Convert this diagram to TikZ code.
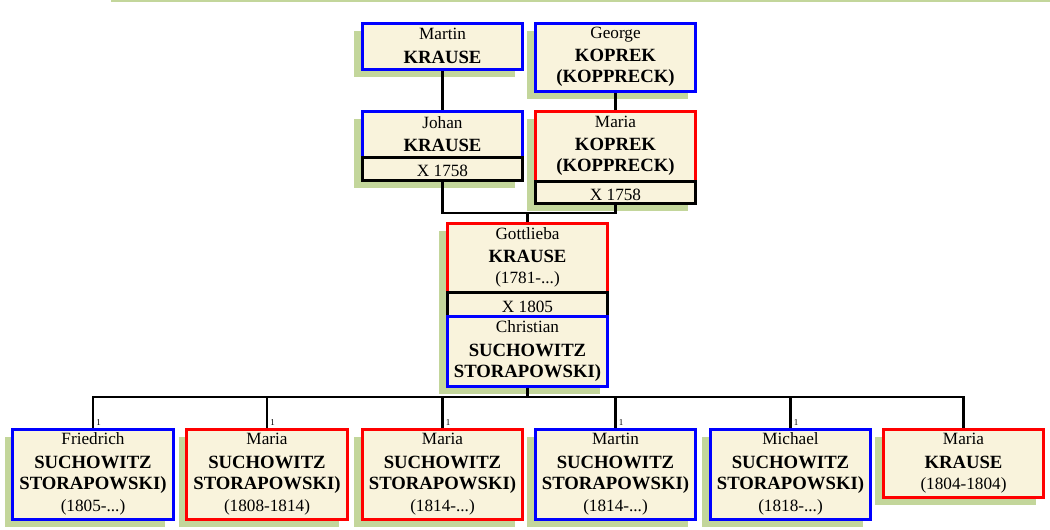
\documentclass[tikz,border=0pt]{standalone}
\usepackage{fontspec}
\setmainfont{Liberation Serif}
\usepackage{xcolor}
\usetikzlibrary{shadows}
\definecolor{cream}{HTML}{F9F3DC}
\definecolor{leaf}{HTML}{C3D69B}
\newcommand{\famname}[1]{{\fontsize{18.7}{21}\selectfont\bfseries #1}}

\begin{document}
\begin{tikzpicture}[x=1pt, y=-1pt,
  person/.style={draw, line width=3pt, fill=cream, minimum width=160.5pt, align=center, inner sep=2pt,
    font=\fontsize{17.2}{21}\selectfont, execute at begin node={\rule{0pt}{17pt}},
    drop shadow={shadow xshift=-8pt, shadow yshift=-8pt, fill=leaf, opacity=1}},
  man/.style={person, draw=blue},
  woman/.style={person, draw=red},
  wed/.style={person, draw=black},
  link/.style={line width=2.5pt},
  num/.style={anchor=south west, inner sep=0.5pt, xshift=1.5pt, font=\fontsize{9}{9}\selectfont}
]
\useasboundingbox (0,0) rectangle (1050,530);
\draw[leaf, line width=2pt] (111,1) -- (1050,1);

% grandparents
\node[man, minimum height=46pt] (martin) at (442.5,46) {Martin\\[2.5pt]\famname{KRAUSE}};
\node[man, minimum height=68pt] (george) at (615.5,57) {George\\[2.5pt]\famname{KOPREK}\\\famname{(KOPPRECK)}};

% parents
\node[man, minimum height=46pt] (johan) at (442.5,134) {Johan\\[2.5pt]\famname{KRAUSE}};
\node[wed, minimum height=23pt] (johanx) at (442.5,168.5) {X 1758};
\node[woman, minimum height=70pt] (mariak) at (615.5,146) {Maria\\[2.5pt]\famname{KOPREK}\\\famname{(KOPPRECK)}};
\node[wed, minimum height=22pt] (mariakx) at (615.5,192) {X 1758};

% couple
\node[woman, minimum height=69pt] (gottlieba) at (527.5,257.5) {Gottlieba\\[2.5pt]\famname{KRAUSE}\\(1781-...)};
\node[wed, minimum height=24pt] (gx) at (527.5,304) {X 1805};
\node[man, minimum height=70pt] (christian) at (527.5,351) {Christian\\[2.5pt]\famname{SUCHOWITZ}\\\famname{STORAPOWSKI)}};

% children
\node[man, minimum height=90pt] (fried) at (93,474) {Friedrich\\[2.5pt]\famname{SUCHOWITZ}\\\famname{STORAPOWSKI)}\\[1pt](1805-...)};
\node[woman, minimum height=90pt] (maria1) at (267,474) {Maria\\[2.5pt]\famname{SUCHOWITZ}\\\famname{STORAPOWSKI)}\\[1pt](1808-1814)};
\node[woman, minimum height=90pt] (maria2) at (442.5,474) {Maria\\[2.5pt]\famname{SUCHOWITZ}\\\famname{STORAPOWSKI)}\\[1pt](1814-...)};
\node[man, minimum height=90pt] (martin2) at (615.5,474) {Martin\\[2.5pt]\famname{SUCHOWITZ}\\\famname{STORAPOWSKI)}\\[1pt](1814-...)};
\node[man, minimum height=90pt] (michael) at (790.5,474) {Michael\\[2.5pt]\famname{SUCHOWITZ}\\\famname{STORAPOWSKI)}\\[1pt](1818-...)};
\node[woman, minimum height=68pt] (mkrause) at (963.5,463) {Maria\\[2.5pt]\famname{KRAUSE}\\(1804-1804)};

% links
\coordinate (jk) at (527.5,213);
\coordinate (bus) at (527.5,397);
\draw[link] (martin) -- (johan);
\draw[link] (george) -- (mariak);
\draw[link] (johanx.south) |- (jk) -| (mariakx.south);
\draw[link] (jk) -- (gottlieba.north);
\draw[link] (christian.south) -- (bus);
\foreach \kid in {fried,maria1,maria2,martin2,michael}
  \draw[link] (bus) -| (\kid.north) node[num] {1};
\draw[link] (bus) -| (mkrause.north);
\end{tikzpicture}
\end{document}
